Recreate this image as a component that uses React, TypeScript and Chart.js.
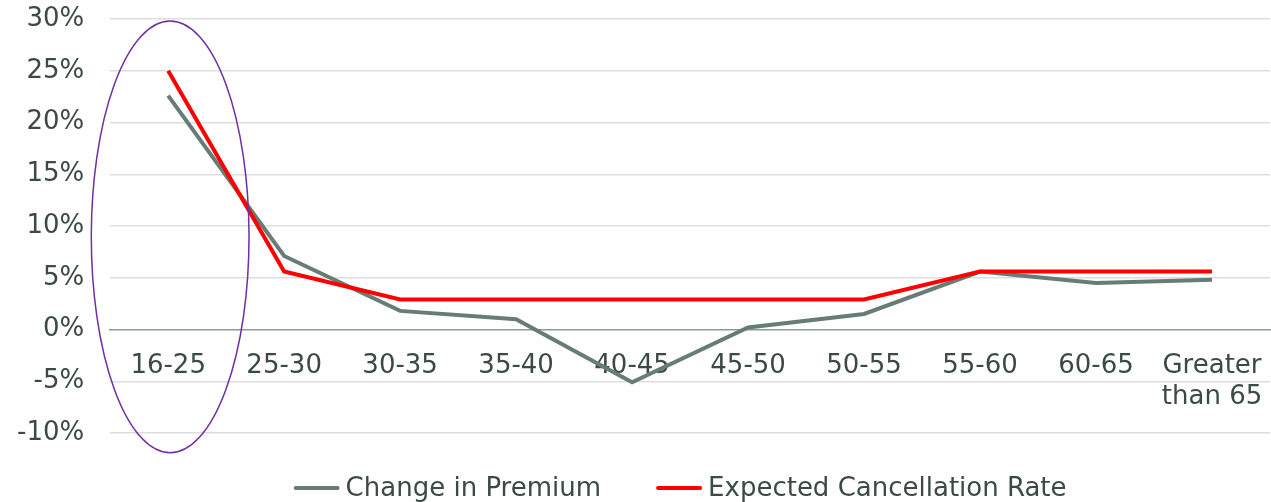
import React, { useEffect, useRef } from "react";
import { Chart, registerables } from "chart.js";

Chart.register(...registerables);

const categories: (string | string[])[] = [
  "16-25", "25-30", "30-35", "35-40", "40-45", "45-50", "50-55", "55-60", "60-65", ["Greater", "than 65"],
];
const changeInPremium = [22.6, 7.1, 1.8, 1.0, -5.1, 0.2, 1.5, 5.6, 4.5, 4.8];
const expectedCancellation = [25.0, 5.6, 2.9, 2.9, 2.9, 2.9, 2.9, 5.6, 5.6, 5.6];
const seriesNames = ["Change in Premium", "Expected Cancellation Rate"];
const seriesColors = ["#687c76", "#ff0000"];
const yTicks = { min: -10, max: 30, step: 5 };
// highlight ellipse around the first category (data units)
const highlight = { category: 0, halfWidthCats: 0.68, top: 29.8, bottom: -11.9, color: "#7030a0" };

const FONT = "'DejaVu Sans', sans-serif";
const TEXT = "#3c4a46";

export default function App() {
  const ref = useRef<HTMLCanvasElement | null>(null);
  useEffect(() => {
    if (!ref.current) return;
    const ellipsePlugin = {
      id: "ellipse",
      afterDatasetsDraw(chart: any) {
        const { ctx, scales } = chart;
        const x = scales.x.getPixelForValue(highlight.category);
        const catW = scales.x.getPixelForValue(1) - scales.x.getPixelForValue(0);
        const yt = scales.y.getPixelForValue(highlight.top);
        const yb = scales.y.getPixelForValue(highlight.bottom);
        ctx.save();
        ctx.beginPath();
        ctx.ellipse(x + 2, (yt + yb) / 2, catW * highlight.halfWidthCats, (yb - yt) / 2, 0, 0, Math.PI * 2);
        ctx.strokeStyle = highlight.color;
        ctx.lineWidth = 1.5;
        ctx.stroke();
        ctx.restore();
      },
    };
    const legendPlugin = {
      id: "customLegend",
      afterDraw(chart: any) {
        const { ctx, chartArea } = chart;
        ctx.save();
        ctx.font = `26px ${FONT}`;
        const lineW = 46, gapText = 6, gapItem = 55;
        const widths = seriesNames.map((n) => ctx.measureText(n).width);
        const total = widths.reduce((a, w) => a + lineW + gapText + w, 0) + gapItem * (seriesNames.length - 1);
        let x = (chartArea.left + chartArea.right) / 2 - total / 2 - 10;
        const y = 488;
        ctx.textBaseline = "middle";
        ctx.fillStyle = TEXT;
        seriesNames.forEach((n, i) => {
          ctx.strokeStyle = seriesColors[i];
          ctx.lineWidth = 4;
          ctx.lineCap = "round";
          ctx.beginPath();
          ctx.moveTo(x + 2, y);
          ctx.lineTo(x + lineW - 2, y);
          ctx.stroke();
          x += lineW + gapText;
          ctx.fillText(n, x, y + 1);
          x += widths[i] + gapItem;
        });
        ctx.restore();
      },
    };
    const zeroPad = (s: any) => {
      s.paddingTop = 0;
      s.paddingBottom = 0;
      s.paddingLeft = 0;
      s.paddingRight = 0;
    };
    const chart = new Chart(ref.current, {
      type: "line",
      data: {
        labels: categories,
        datasets: [
          {
            label: seriesNames[0],
            data: changeInPremium,
            borderColor: seriesColors[0],
            backgroundColor: seriesColors[0],
            borderWidth: 4,
            pointRadius: 0,
            tension: 0,
            order: 1,
          },
          {
            label: seriesNames[1],
            data: expectedCancellation,
            borderColor: seriesColors[1],
            backgroundColor: seriesColors[1],
            borderWidth: 4,
            pointRadius: 0,
            tension: 0,
            order: 0,
          },
        ],
      },
      options: {
        responsive: false,
        animation: false,
        layout: { padding: { left: -9, right: 1, top: 19, bottom: 69 } },
        plugins: { legend: { display: false }, tooltip: { enabled: false } },
        scales: {
          x: {
            position: { y: 0 },
            offset: true,
            afterFit: zeroPad,
            grid: { display: false },
            border: { display: true, color: "#8a9c97", width: 1.5 },
            ticks: {
              color: TEXT,
              font: { family: FONT, size: 26 },
              padding: 13,
              maxRotation: 0,
              autoSkip: false,
            },
          },
          y: {
            min: yTicks.min,
            max: yTicks.max,
            afterFit: zeroPad,
            border: { display: false },
            grid: {
              color: (c: any) => (c.tick && c.tick.value === 0 ? "rgba(0,0,0,0)" : "#dddddd"),
              lineWidth: 1.5,
              drawTicks: false,
            },
            ticks: {
              stepSize: yTicks.step,
              color: TEXT,
              font: { family: FONT, size: 26 },
              padding: 26,
              callback: (v: any) => `${v}%`,
            },
          },
        },
      },
      plugins: [ellipsePlugin, legendPlugin],
    });
    return () => chart.destroy();
  }, []);
  return (
    <div style={{ position: "absolute", left: 0, top: 0, width: 1271, height: 502, background: "#fff" }}>
      <canvas ref={ref} width={1271} height={502} />
    </div>
  );
}
